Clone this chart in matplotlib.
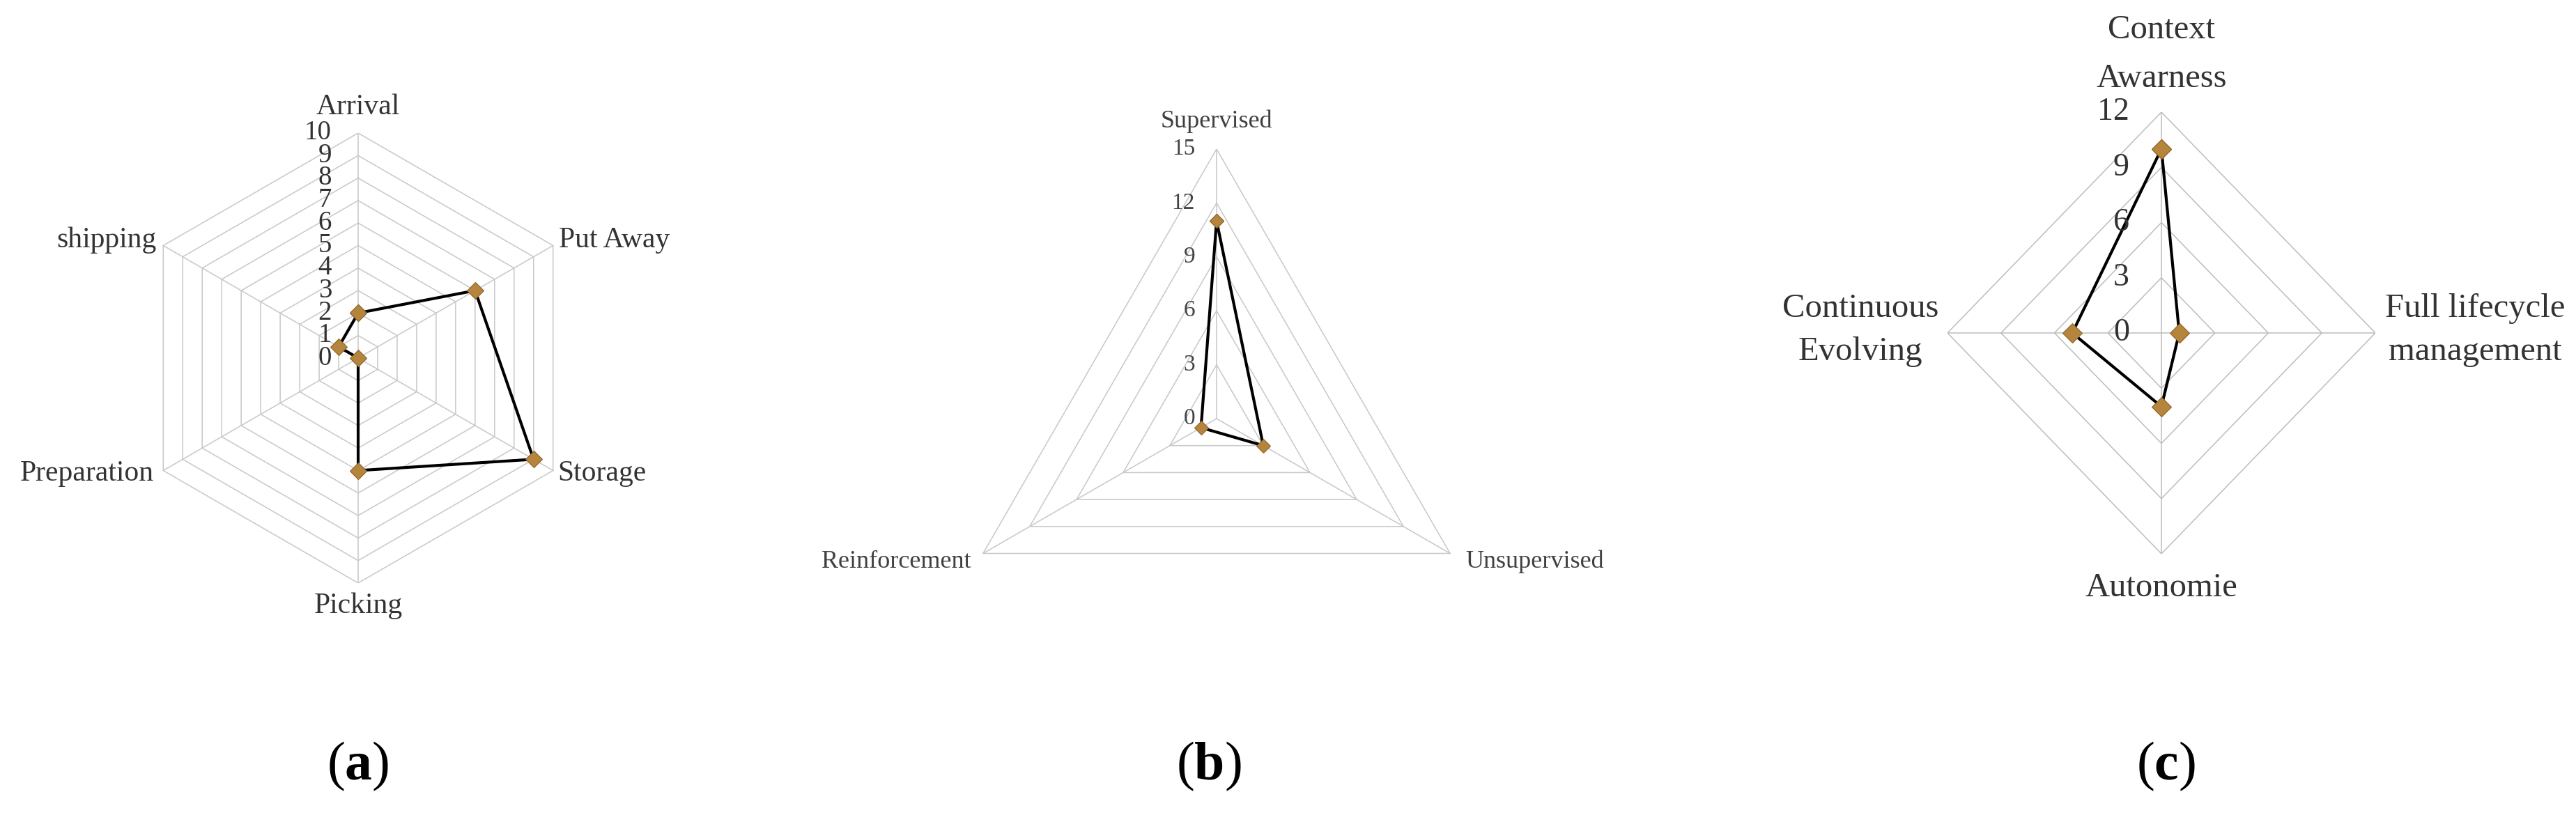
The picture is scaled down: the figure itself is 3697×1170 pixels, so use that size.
import numpy as np
import matplotlib.pyplot as plt

# ---- data ----
wms_labels = ['Arrival', 'Put Away', 'Storage', 'Picking', 'Preparation', 'shipping']
wms_values = [2, 6, 9, 5, 0, 1]
wms_ticks = list(range(0, 11))

ml_labels = ['Supervised', 'Unsupervised', 'Reinforcement']
ml_values = [11, 3, 1]
ml_ticks = [0, 3, 6, 9, 12, 15]

dt_labels = ['Context\nAwarness', 'Full lifecycle\nmanagement', 'Autonomie', 'Continuous\nEvolving']
dt_values = [10, 1, 4, 5]
dt_ticks = [0, 3, 6, 9, 12]

captions = ['a', 'b', 'c']

# ---- figure setup ----
W, H = 3697, 1170
DPI = 100
PT = 72 / DPI  # pixels -> points

plt.rcParams['font.family'] = ['Liberation Serif', 'DejaVu Serif']
plt.rcParams['mathtext.fontset'] = 'custom'
plt.rcParams['mathtext.rm'] = 'Liberation Serif'
plt.rcParams['mathtext.bf'] = 'Liberation Serif:bold'

fig = plt.figure(figsize=(W / DPI, H / DPI), dpi=DPI)
fig.patch.set_facecolor('white')


def radar(cx, cy, rx, ry, labels, values, ticks, offsets, fs, tick_fs, tick_dx,
          text_color, tick_color, grid_color='#c8c8c8', lw=3.0, ms=11):
    """Radar chart drawn on cartesian axes (centre cx, cy and radii in pixels)"""
    rmax = ticks[-1]
    ax = fig.add_axes([(cx - rx) / W, 1 - (cy + ry) / H, 2 * rx / W, 2 * ry / H])
    ax.set_xlim(-rmax, rmax)
    ax.set_ylim(-rmax, rmax)
    ax.axis('off')

    n = len(labels)
    ang = np.arange(n) * 2 * np.pi / n
    ux, uy = np.sin(ang), np.cos(ang)

    # rings + spokes
    for t in ticks[1:]:
        ax.plot(np.append(ux, ux[0]) * t, np.append(uy, uy[0]) * t,
                color=grid_color, lw=1.1, zorder=1)
    for i in range(n):
        ax.plot([0, ux[i] * rmax], [0, uy[i] * rmax], color=grid_color, lw=1.1, zorder=1)

    # series
    v = np.array(values, dtype=float)
    ax.plot(np.append(ux * v, ux[0] * v[0]), np.append(uy * v, uy[0] * v[0]),
            color='black', lw=lw, marker='D', ms=ms, mfc='#b5853d', mec='#8a6428',
            mew=0.8, zorder=3, clip_on=False)

    # radial tick labels
    for t in ticks:
        ax.annotate(str(t), (0, t), xytext=(tick_dx * PT, 0), textcoords='offset points',
                    ha='right', va='center', fontsize=tick_fs, color=tick_color)

    # category labels
    for i, lab in enumerate(labels):
        dx, dy, ha, ls = offsets[i]
        ax.annotate(lab, (ux[i] * rmax, uy[i] * rmax), xytext=(dx * PT, dy * PT),
                    textcoords='offset points', ha=ha, va='center',
                    multialignment='center', fontsize=fs, color=text_color,
                    linespacing=ls)
    return ax


# (a) warehouse processes
radar(514, 514, 323, 323, wms_labels, wms_values, wms_ticks,
      [(0, 37, 'center', 1.2), (8, 8, 'left', 1.2), (7, -4, 'left', 1.2),
       (0, -33, 'center', 1.2), (-13, -4, 'right', 1.2), (-10, 8, 'right', 1.2)],
      fs=30, tick_fs=28, tick_dx=-38, text_color='#333333', tick_color='#333333',
      lw=3.0, ms=12)

# (b) learning types
radar(1746, 601, 387, 387, ml_labels, ml_values, ml_ticks,
      [(0, 40, 'center', 1.2), (22, -12, 'left', 1.2), (-17, -12, 'right', 1.2)],
      fs=26, tick_fs=24, tick_dx=-31, text_color='#404040', tick_color='#444444',
      lw=3.0, ms=10.5)

# (c) digital twin features
radar(3102, 478, 307, 317, dt_labels, dt_values, dt_ticks,
      [(0, 83, 'center', 1.75), (14, 4, 'left', 1.52), (0, -49, 'center', 1.2),
       (-13, 4, 'right', 1.52)],
      fs=35, tick_fs=33, tick_dx=-46, text_color='#333333', tick_color='#333333',
      grid_color='#bdbdbd', lw=3.0, ms=14)

# sub-figure captions
for cap, x in zip(captions, [514, 1735, 3108]):
    fig.text(x / W, 1 - 1100 / H, r'($\mathbf{' + cap + '}$)', ha='center', va='center',
             fontsize=56, color='black')

fig.savefig('out.png', dpi=DPI, facecolor='white')
